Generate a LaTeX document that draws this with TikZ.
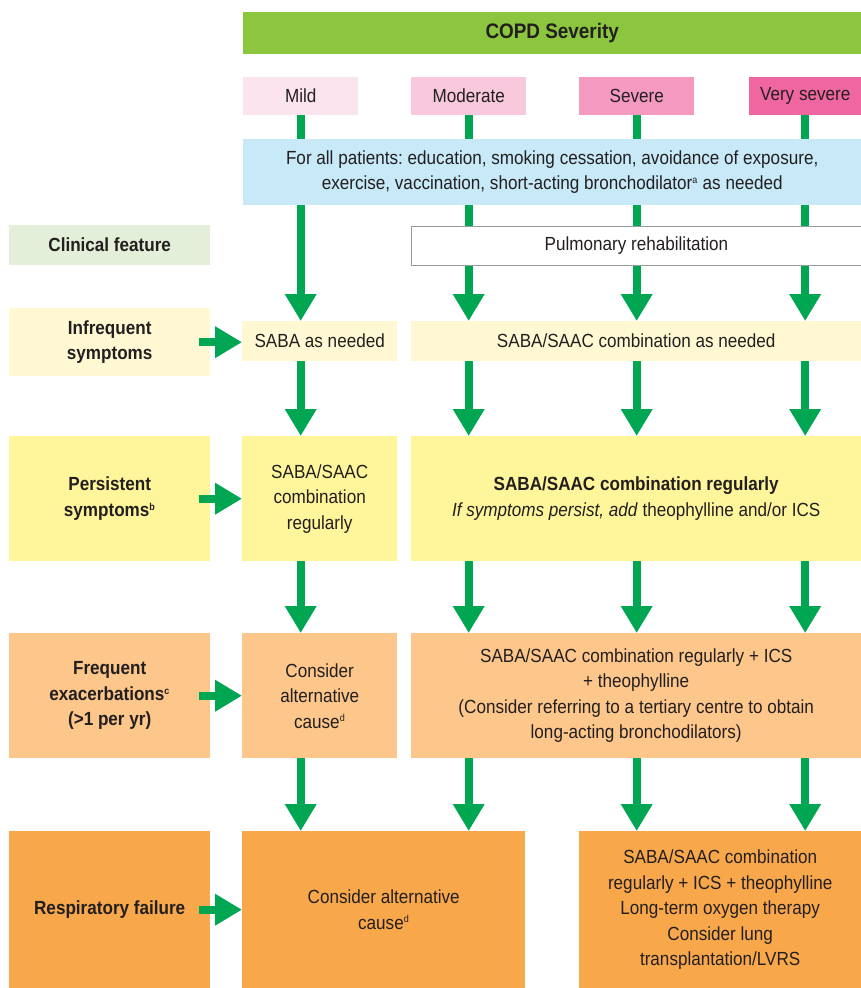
\documentclass[tikz,border=0pt]{standalone}
\usepackage{fontspec}
\setmainfont{Liberation Sans}[FakeStretch=0.9]
\usetikzlibrary{arrows.meta,backgrounds}

\definecolor{txt}{HTML}{231F20}
\definecolor{hdr}{HTML}{8CC63F}
\definecolor{mildc}{HTML}{FCE4EF}
\definecolor{modc}{HTML}{F8C8DC}
\definecolor{sevc}{HTML}{F49AC1}
\definecolor{vsevc}{HTML}{EF66A0}
\definecolor{allc}{HTML}{C7E9F8}
\definecolor{clinc}{HTML}{E3EFD8}
\definecolor{infc}{HTML}{FFF8D2}
\definecolor{perc}{HTML}{FFF59A}
\definecolor{frec}{HTML}{FDC68A}
\definecolor{resc}{HTML}{F8A84B}
\definecolor{arr}{HTML}{00A651}
\definecolor{rehabline}{HTML}{9A9A9A}

\newcommand{\bodyfont}{\fontsize{19}{25.5}\selectfont}
\newcommand{\supr}[1]{\textsuperscript{\fontsize{10}{10}\selectfont #1}}

\tikzset{
  cell/.style={anchor=north west, inner sep=2pt, align=center, text=txt,
    font=\bodyfont},
  lab/.style={cell, font=\bodyfont\bfseries},
  garrow/.style={draw=arr, line width=8pt,
    -{Triangle[width=30pt,length=27pt]}},
}

\begin{document}
\frenchspacing
\begin{tikzpicture}[x=1pt,y=-1pt]
\useasboundingbox (0,0) rectangle (861,988);

% severity header and columns
\node[cell, fill=hdr, minimum width=618pt, minimum height=42pt,
  font=\fontsize{21}{25}\selectfont\bfseries] (sev) at (243,12) {COPD Severity};
\node[cell, fill=mildc, minimum width=115pt, minimum height=38pt] (mild) at (243,77) {Mild};
\node[cell, fill=modc, minimum width=115pt, minimum height=38pt] (moderate) at (411,77) {Moderate};
\node[cell, fill=sevc, minimum width=115pt, minimum height=38pt] (severe) at (579,77) {Severe};
\node[cell, fill=vsevc, minimum width=112pt, minimum height=38pt] (vsevere) at (749,77) {Very severe};

% measures for every patient
\node[cell, fill=allc, minimum width=618pt, minimum height=66pt] (all) at (243,139)
  {For all patients: education, smoking cessation, avoidance of exposure,\\
   exercise, vaccination, short-acting bronchodilator\supr{a} as needed};
\node[cell, fill=white, draw=rehabline, line width=0.8pt, minimum width=450pt, minimum height=39pt] (rehab) at (411,226)
  {Pulmonary rehabilitation};

% clinical feature column
\node[lab, fill=clinc, minimum width=201pt, minimum height=40pt] (clin) at (9,225) {Clinical feature};
\node[lab, fill=infc, minimum width=201pt, minimum height=68pt] (inf) at (9,308) {Infrequent\\symptoms};
\node[lab, fill=perc, minimum width=201pt, minimum height=125pt] (per) at (9,436) {Persistent\\symptoms\supr{b}};
\node[lab, fill=frec, minimum width=201pt, minimum height=125pt] (fre) at (9,633) {Frequent\\exacerbations\supr{c}\\(>1 per yr)};
\node[lab, fill=resc, minimum width=201pt, minimum height=157pt] (res) at (9,831) {Respiratory failure};

% infrequent symptoms
\node[cell, fill=infc, minimum width=155pt, minimum height=40pt] (infA) at (242,321) {SABA as needed};
\node[cell, fill=infc, minimum width=450pt, minimum height=40pt] (infB) at (411,321) {SABA/SAAC combination as needed};

% persistent symptoms
\node[cell, fill=perc, minimum width=155pt, minimum height=125pt] (perA) at (242,436)
  {SABA/SAAC\\combination\\regularly};
\node[cell, fill=perc, minimum width=450pt, minimum height=125pt] (perB) at (411,436)
  {\textbf{SABA/SAAC combination regularly}\\
   \textit{If symptoms persist, add} theophylline and/or ICS};

% frequent exacerbations
\node[cell, fill=frec, minimum width=155pt, minimum height=125pt] (freA) at (242,633)
  {Consider\\alternative\\cause\supr{d}};
\node[cell, fill=frec, minimum width=450pt, minimum height=125pt] (freB) at (411,633)
  {SABA/SAAC combination regularly + ICS\\
   + theophylline\\
   (Consider referring to a tertiary centre to obtain\\
   long-acting bronchodilators)};

% respiratory failure
\node[cell, fill=resc, minimum width=283pt, minimum height=157pt] (resA) at (242,831)
  {Consider alternative\\cause\supr{d}};
\node[cell, fill=resc, minimum width=282pt, minimum height=157pt] (resB) at (579,831)
  {SABA/SAAC combination\\
   regularly + ICS + theophylline\\
   Long-term oxygen therapy\\
   Consider lung\\
   transplantation/LVRS};

% downward arrows, behind the boxes they cross
\begin{pgfonlayer}{background}
\foreach \c/\a/\b/\d/\e in {mild/infA/perA/freA/resA, moderate/infB/perB/freB/resA,
    severe/infB/perB/freB/resB, vsevere/infB/perB/freB/resB}{
  \draw[garrow] (\c.south) -- (\c.south |- \a.north);
  \draw[garrow] (\c.south |- \a.south) -- (\c.south |- \b.north);
  \draw[garrow] (\c.south |- \b.south) -- (\c.south |- \d.north);
  \draw[garrow] (\c.south |- \d.south) -- (\c.south |- \e.north);
}
\end{pgfonlayer}

% arrows from each clinical feature to its first treatment box
\draw[garrow] ([xshift=-11pt]inf.east) -- (inf.east -| infA.west);
\draw[garrow] ([xshift=-11pt]per.east) -- (per.east -| perA.west);
\draw[garrow] ([xshift=-11pt]fre.east) -- (fre.east -| freA.west);
\draw[garrow] ([xshift=-11pt]res.east) -- (res.east -| resA.west);
\end{tikzpicture}
\end{document}
